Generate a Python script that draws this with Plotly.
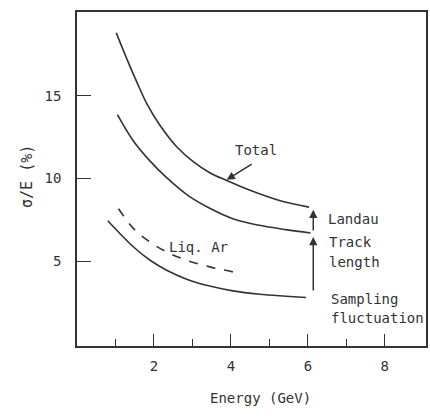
import plotly.graph_objects as go

# Energy resolution vs energy: total, without Landau, sampling, and liquid argon
energy_total = [1.02, 1.29, 1.55, 1.81, 2.15, 2.59, 3.02, 3.45, 3.92, 4.48, 5.26, 6.03]
sigma_total = [18.80, 17.26, 15.85, 14.54, 13.23, 11.92, 11.02, 10.35, 9.85, 9.30, 8.67, 8.27]

energy_track = [1.05, 1.47, 1.90, 2.33, 2.90, 3.45, 4.05, 4.74, 5.43, 6.07]
sigma_track = [13.86, 12.25, 11.05, 10.05, 8.95, 8.20, 7.57, 7.17, 6.91, 6.71]

energy_sampling = [0.80, 1.47, 1.90, 2.33, 2.85, 3.45, 4.05, 4.74, 5.43, 5.95]
sigma_sampling = [7.45, 5.86, 5.06, 4.46, 3.92, 3.50, 3.21, 3.01, 2.89, 2.81]

energy_liqar = [1.08, 1.47, 1.90, 2.33, 2.85, 3.45, 4.18]
sigma_liqar = [8.17, 6.97, 6.16, 5.56, 5.06, 4.66, 4.30]

x_major_ticks = [2, 4, 6, 8]
x_minor_ticks = [1, 3, 5, 7]
y_ticks = [5, 10, 15]

INK = "#333333"
FONT = "DejaVu Sans Mono"

fig = go.Figure()

for xs, ys, dash in [
    (energy_total, sigma_total, "solid"),
    (energy_track, sigma_track, "solid"),
    (energy_sampling, sigma_sampling, "solid"),
    (energy_liqar, sigma_liqar, "dash"),
]:
    fig.add_trace(go.Scatter(
        x=xs, y=ys, mode="lines",
        line=dict(color=INK, width=1.6, dash=dash, shape="spline", smoothing=1.0),
        showlegend=False, hoverinfo="skip",
    ))

annotations = []

def label(text, x, y, xanchor="left", size=14):
    annotations.append(dict(
        x=x, y=y, xref="x", yref="y", text=text, showarrow=False,
        xanchor=xanchor, yanchor="middle",
        font=dict(family=FONT, size=size, color=INK),
    ))

def arrow(x0, y0, x1, y1):
    annotations.append(dict(
        x=x1, y=y1, ax=x0, ay=y0, xref="x", yref="y", axref="x", ayref="y",
        text="", showarrow=True, arrowhead=2, arrowsize=1.1, arrowwidth=1.5,
        arrowcolor=INK, standoff=0, startstandoff=0,
    ))

label("Total", 4.65, 11.7, xanchor="center")
arrow(4.58, 10.92, 3.89, 9.92)

label("Landau", 6.48, 7.57)
label("Track", 6.50, 6.16)
label("length", 6.50, 4.96)
label("Sampling", 6.55, 2.70)
label("fluctuation", 6.55, 1.55)
label("Liq. Ar", 3.15, 5.86, xanchor="center")

arrow(6.14, 6.77, 6.14, 8.11)
arrow(6.14, 3.15, 6.14, 6.47)

# axis titles
annotations.append(dict(
    x=-0.143, y=10.1, xref="paper", yref="y", text="σ/E (%)", textangle=-90,
    showarrow=False, xanchor="center", yanchor="middle",
    font=dict(family=FONT, size=15, color=INK),
))
annotations.append(dict(
    x=4.77, y=-0.155, xref="x", yref="paper", text="Energy (GeV)",
    showarrow=False, xanchor="center", yanchor="middle",
    font=dict(family=FONT, size=14, color=INK),
))

fig.update_layout(
    width=430, height=416,
    margin=dict(l=77, r=2, t=12, b=70),
    paper_bgcolor="white", plot_bgcolor="white",
    annotations=annotations,
    font=dict(family=FONT, size=14, color=INK),
)

fig.update_xaxes(
    range=[0, 9.07], showgrid=False, zeroline=False,
    showline=True, linecolor=INK, linewidth=1.5, mirror=True,
    tickvals=x_major_ticks, ticktext=[str(v) for v in x_major_ticks],
    ticks="inside", ticklen=12, tickwidth=1.4, tickcolor=INK,
    ticklabelstandoff=6,
    minor=dict(tickvals=x_minor_ticks, ticks="inside", ticklen=7,
               tickwidth=1.3, tickcolor=INK, showgrid=False),
    tickfont=dict(family=FONT, size=14, color=INK),
)
fig.update_yaxes(
    range=[-0.12, 20.06], showgrid=False, zeroline=False,
    showline=True, linecolor=INK, linewidth=1.5, mirror=True,
    tickvals=y_ticks, ticktext=[str(v) for v in y_ticks],
    ticks="inside", ticklen=14, tickwidth=1.4, tickcolor=INK,
    ticklabelstandoff=11,
    tickfont=dict(family=FONT, size=14, color=INK),
)

fig.write_html("out.html")
